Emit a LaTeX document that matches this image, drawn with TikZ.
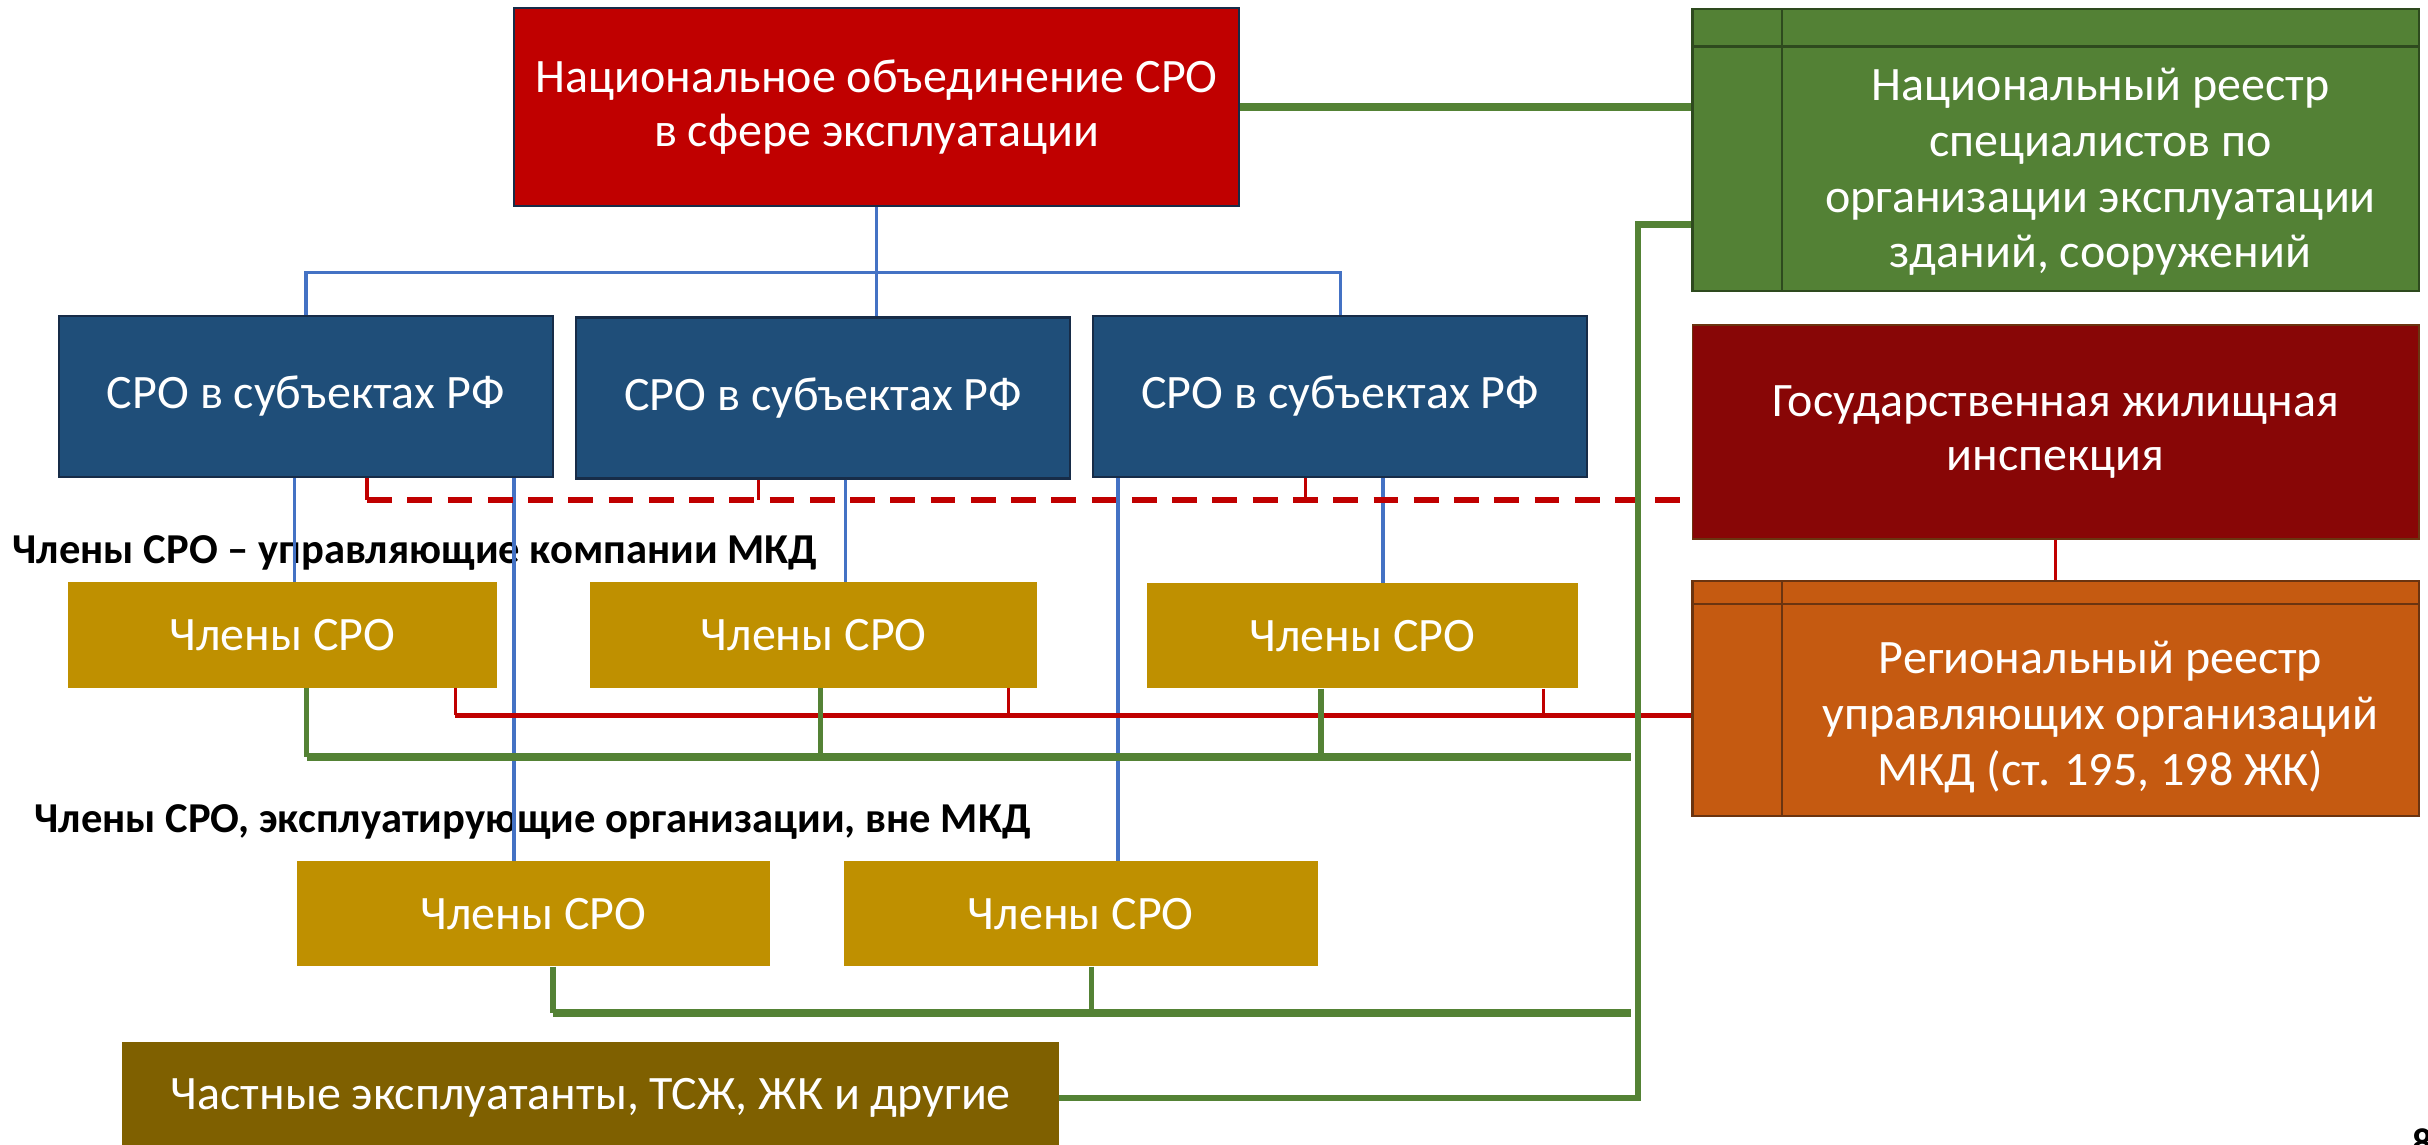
\documentclass[tikz,border=0pt]{standalone}
\usepackage{fontspec}
\setmainfont{Carlito}
\usetikzlibrary{calc}
\definecolor{topred}{HTML}{C00000}
\definecolor{navyfill}{HTML}{1F4E79}
\definecolor{navyline}{HTML}{172C48}
\definecolor{regreen}{HTML}{538135}
\definecolor{regreenline}{HTML}{2E4A1E}
\definecolor{inspred}{HTML}{880606}
\definecolor{orangefill}{HTML}{C55A11}
\definecolor{orangeline}{HTML}{6B3410}
\definecolor{goldfill}{HTML}{BF9000}
\definecolor{olivefill}{HTML}{7F6000}
\definecolor{lineblue}{HTML}{4472C4}
\definecolor{linered}{HTML}{C00000}
\definecolor{linegreen}{HTML}{548235}
\tikzset{
  boxbase/.style={rectangle, inner sep=0pt, align=center, text=white,
    font=\fontsize{31}{35}\selectfont},
  topbox/.style={boxbase, fill=topred, draw=navyline, line width=1.5pt,
    minimum width=468pt, minimum height=128pt},
  srobox/.style={boxbase, fill=navyfill, draw=navyline, line width=1.5pt,
    minimum width=319pt, minimum height=104pt},
  sidebox/.style={rectangle, inner sep=0pt, line width=1.5pt,
    minimum width=469pt},
  goldbox/.style={boxbase, fill=goldfill, minimum height=68pt},
  olivebox/.style={boxbase, fill=olivefill, minimum width=605pt, minimum height=72pt},
  sidetext/.style={align=center, text=white, inner sep=0pt,
    font=\fontsize{31}{36}\selectfont},
  lbl/.style={inner sep=0pt, anchor=west, font=\fontsize{27.5}{30}\selectfont\bfseries},
  bluel/.style={draw=lineblue, line width=2.2pt},
  redthin/.style={draw=linered, line width=2pt},
  redmid/.style={draw=linered, line width=3.5pt},
  reddash/.style={draw=linered, line width=3.5pt, dash pattern=on 16pt off 10pt},
  gtick/.style={draw=linegreen, line width=3.5pt},
  gbar/.style={draw=linegreen, line width=5pt},
  gtrunk/.style={draw=linegreen, line width=4pt},
}
\begin{document}
\begin{tikzpicture}[x=1pt,y=-1pt]
\useasboundingbox (0,0) rectangle (1568,739);
\clip (0,0) rectangle (1568,739);
\fill[white] (0,0) rectangle (1568,739);

% main boxes
\node[topbox] (top) at (566,69) {Национальное объединение СРО\\в сфере эксплуатации};
\node[srobox] (b1) at (197.5,256) {СРО в субъектах РФ};
\node[srobox] (b2) at (531.5,257) {СРО в субъектах РФ};
\node[srobox] (b3) at (865.5,256) {СРО в субъектах РФ};

% right side boxes
\node[sidebox, fill=regreen, draw=regreenline, minimum height=182pt] (reg) at (1327.5,97) {};
\draw[regreenline, line width=1.5pt] (1151,6) -- (1151,188) (1093,30) -- (1562,30);
\node[sidetext] (regtext) at (1356.5,111) {Национальный реестр\\специалистов по\\организации эксплуатации\\зданий, сооружений};

\node[sidebox, boxbase, fill=inspred, draw=orangeline, line width=1pt, minimum height=138pt] (insp) at (1327.5,279) {Государственная жилищная\\инспекция};

\node[sidebox, fill=orangefill, draw=orangeline, minimum height=152pt] (reg2) at (1327.5,451) {};
\draw[orangeline, line width=1.5pt] (1151,375) -- (1151,527) (1093,390) -- (1562,390);
\node[sidetext] (reg2text) at (1356.5,463) {Региональный реестр\\управляющих организаций\\МКД (ст. 195, 198 ЖК)};

% labels
\node[lbl] (lab1) at (8,357) {Члены СРО – управляющие компании МКД};
\node[lbl] (lab2) at (22,531) {Члены СРО, эксплуатирующие организации, вне МКД};

% member boxes
\node[goldbox, minimum width=277pt] (y1) at (182.5,410) {Члены СРО};
\node[goldbox, minimum width=289pt] (y2) at (525.5,410) {Члены СРО};
\node[goldbox, minimum width=278pt] (y3) at (880,410.5) {Члены СРО};
\node[goldbox, minimum width=305pt] (z1) at (344.5,590) {Члены СРО};
\node[goldbox, minimum width=306pt] (z2) at (698,590) {Члены СРО};
\node[olivebox] (ol) at (381.5,709) {Частные эксплуатанты, ТСЖ, ЖК и другие};

% blue hierarchy
\coordinate (bj) at (566,176);
\draw[bluel] (top.south) -- (top.south |- b2.north);
\draw[bluel] (b1.north) |- (bj) -| (b3.north);
\draw[bluel] ([xshift=-7.5pt]b1.south) -- ([xshift=-7.5pt]b1.south |- y1.north);
\draw[bluel] ([xshift=134.5pt]b1.south) -- ([xshift=134.5pt]b1.south |- z1.north);
\draw[bluel] ([xshift=14.5pt]b2.south) -- ([xshift=14.5pt]b2.south |- y2.north);
\draw[bluel] ([xshift=-143.5pt]b3.south) -- ([xshift=-143.5pt]b3.south |- z2.north);
\draw[bluel] ([xshift=27.5pt]b3.south) -- ([xshift=27.5pt]b3.south |- y3.north);

% red dashed (inspection to SRO)
\coordinate (dl) at (237,323);
\draw[redthin] ([xshift=39.5pt]b1.south) -- (dl);
\draw[redthin] ([xshift=-41.5pt]b2.south) -- ([xshift=-41.5pt]b2.south |- dl);
\draw[redthin] ([xshift=-22.5pt]b3.south) -- ([xshift=-22.5pt]b3.south |- dl);
\draw[reddash] (dl) -- (dl -| insp.west);

% red solid (register to members)
\coordinate (rl) at (294,462);
\draw[redthin] ([xshift=111.5pt]y1.south) -- (rl);
\draw[redthin] ([xshift=125.5pt]y2.south) -- ([xshift=125.5pt]y2.south |- rl);
\draw[redthin] ([xshift=117pt]y3.south) -- ([xshift=117pt]y3.south |- rl);
\draw[redmid] (rl) -- (rl -| reg2.west);
\draw[redthin] (insp.south) -- (reg2.north);

% green connections
\draw[gbar] (top.east) -- (top.east -| reg.west);
\coordinate (gt) at (1058,145);
\draw[gtrunk] (gt -| reg.west) -- (gt) |- (ol.east);
\coordinate (g1) at (1053,489);
\draw[gtick] ([xshift=15.5pt]y1.south) -- ([xshift=15.5pt]y1.south |- g1);
\draw[gtick] ([xshift=4.5pt]y2.south) -- ([xshift=4.5pt]y2.south |- g1);
\draw[gtick] ([xshift=-27pt]y3.south) -- ([xshift=-27pt]y3.south |- g1);
\draw[gbar] ([xshift=15.5pt]y1.south |- g1) -- (g1);
\coordinate (g2) at (1053,654);
\draw[gtick] ([xshift=12.5pt]z1.south) -- ([xshift=12.5pt]z1.south |- g2);
\draw[gtick] ([xshift=7pt]z2.south) -- ([xshift=7pt]z2.south |- g2);
\draw[gbar] ([xshift=12.5pt]z1.south |- g2) -- (g2);

% page number (cut off at the page edge, as in the reference)
\node[anchor=north west, inner sep=0pt, font=\fontsize{26}{30}\selectfont\bfseries] (pg) at (1558,729) {8};
\end{tikzpicture}
\end{document}
